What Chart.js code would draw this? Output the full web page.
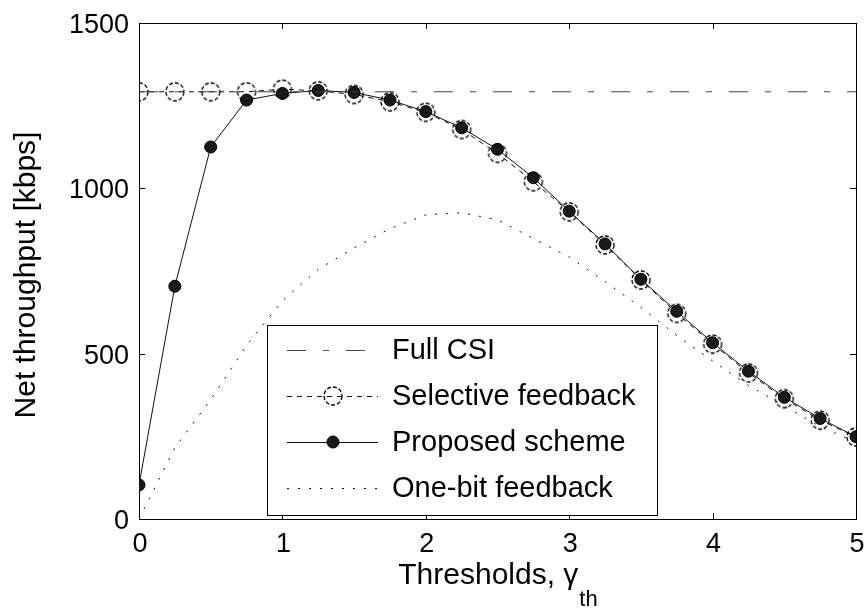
<!DOCTYPE html>
<html>
<head>
<meta charset="utf-8">
<script src="https://cdn.jsdelivr.net/npm/chart.js@4.4.1/dist/chart.umd.min.js"></script>
<style>
  html, body { margin: 0; padding: 0; background: #fff; }
  #wrap { width: 868px; height: 610px; }
</style>
</head>
<body>
<div id="wrap"><canvas id="throughput-chart" width="868" height="610"></canvas></div>
<script>
// thresholds gamma_th and net throughput in kbps
const thresholds = [0, 0.25, 0.5, 0.75, 1, 1.25, 1.5, 1.75, 2, 2.25, 2.5,
                    2.75, 3, 3.25, 3.5, 3.75, 4, 4.25, 4.5, 4.75, 5];
const fullCsi = [1292, 1292, 1292, 1292, 1292, 1292, 1292, 1292, 1292, 1292, 1292,
                 1292, 1292, 1292, 1292, 1292, 1292, 1292, 1292, 1292, 1292];
const selectiveFeedback = [1292, 1292, 1292, 1292, 1300, 1295, 1284, 1262, 1230, 1178, 1106,
                           1020, 929, 829, 723, 622, 529, 442, 364, 299, 248];
const proposedScheme = [103, 704, 1125, 1267, 1287, 1296, 1290, 1267, 1232, 1183, 1118,
                        1032, 931, 832, 725, 628, 533, 447, 368, 304, 249];
const oneBitFeedback = [0, 215, 361, 525, 660, 755, 820, 878, 920, 926, 905,
                        848, 792, 718, 640, 555, 478, 404, 342, 279, 232];

const seriesNames = ['Full CSI', 'Selective feedback', 'Proposed scheme', 'One-bit feedback'];
const xTicks = [0, 1, 2, 3, 4, 5];
const yTicks = [0, 500, 1000, 1500];

const FONT = '"Liberation Sans", Arial, Helvetica, sans-serif';
const INK = '#111';

function points(ys) {
  return thresholds.map((x, i) => ({ x: x, y: ys[i] }));
}

// open dashed circle used as marker for the selective feedback curve
function dashedCircle(r) {
  const c = document.createElement('canvas');
  const s = 2 * r + 4;
  c.width = s; c.height = s;
  const g = c.getContext('2d');
  g.strokeStyle = '#000';
  g.lineWidth = 1.3;
  g.setLineDash([4, 2]);
  g.beginPath();
  g.arc(s / 2, s / 2, r, 0, Math.PI * 2);
  g.stroke();
  return c;
}

// box with inward ticks on all four sides, plus the tick labels
const framePlugin = {
  id: 'frame',
  beforeDatasetsDraw(chart) {
    const { ctx, chartArea: a, scales: { x, y } } = chart;
    const len = 6;
    ctx.save();
    ctx.strokeStyle = '#000';
    ctx.lineWidth = 1;
    ctx.strokeRect(a.left + 0.5, a.top + 0.5, a.right - a.left, a.bottom - a.top);
    ctx.beginPath();
    xTicks.forEach(v => {
      const px = Math.round(x.getPixelForValue(v)) + 0.5;
      ctx.moveTo(px, a.bottom); ctx.lineTo(px, a.bottom - len);
      ctx.moveTo(px, a.top); ctx.lineTo(px, a.top + len);
    });
    yTicks.forEach(v => {
      const py = Math.round(y.getPixelForValue(v)) + 0.5;
      ctx.moveTo(a.left, py); ctx.lineTo(a.left + len, py);
      ctx.moveTo(a.right, py); ctx.lineTo(a.right - len, py);
    });
    ctx.stroke();

    ctx.fillStyle = '#000';
    ctx.font = '27px ' + FONT;
    ctx.textBaseline = 'alphabetic';
    ctx.textAlign = 'center';
    xTicks.forEach(v => ctx.fillText(String(v), x.getPixelForValue(v) + 1, a.bottom + 33));
    ctx.textAlign = 'right';
    yTicks.forEach(v => ctx.fillText(String(v), a.left - 10, y.getPixelForValue(v) + 10));
    ctx.restore();
  }
};

// legend box inside the plot, line sample with marker for each series
const boxLegend = {
  id: 'boxLegend',
  afterDatasetsDraw(chart) {
    const { ctx, chartArea: a } = chart;
    const left = a.left + 128, top = a.top + 302, w = 390, h = 190;
    ctx.save();
    ctx.fillStyle = '#fff';
    ctx.fillRect(left, top, w, h);
    ctx.strokeStyle = '#000';
    ctx.lineWidth = 1;
    ctx.strokeRect(left + 0.5, top + 0.5, w, h);

    chart.data.datasets.forEach((ds, i) => {
      const cy = top + 25 + i * 46;
      ctx.strokeStyle = ds.borderColor;
      ctx.lineWidth = ds.borderWidth;
      ctx.setLineDash(ds.borderDash || []);
      ctx.beginPath();
      ctx.moveTo(left + 20, cy + 0.5);
      ctx.lineTo(left + 111, cy + 0.5);
      ctx.stroke();
      ctx.setLineDash([]);
      if (ds.pointRadius > 0) {
        ctx.fillStyle = ds.pointBackgroundColor;
        ctx.strokeStyle = ds.pointBorderColor;
        ctx.lineWidth = 1;
        Chart.helpers.drawPoint(ctx, {
          pointStyle: ds.pointStyle, radius: ds.pointRadius, rotation: 0, borderWidth: 1
        }, left + 66, cy);
      }
      ctx.fillStyle = '#000';
      ctx.font = '29px ' + FONT;
      ctx.textBaseline = 'middle';
      ctx.fillText(ds.label, left + 125, cy + 1);
    });
    ctx.restore();
  }
};

// axis titles; the x title carries a subscript
const axisTitles = {
  id: 'axisTitles',
  afterDraw(chart) {
    const { ctx, chartArea: a } = chart;
    ctx.save();
    ctx.fillStyle = '#000';

    ctx.translate(27, (a.top + a.bottom) / 2 + 4);
    ctx.rotate(-Math.PI / 2);
    ctx.font = '30px ' + FONT;
    ctx.textAlign = 'center';
    ctx.textBaseline = 'middle';
    ctx.fillText('Net throughput [kbps]', 0, 0);
    ctx.setTransform(1, 0, 0, 1, 0, 0);

    const main = 'Thresholds, \u03b3', sub = 'th';
    ctx.textAlign = 'left';
    ctx.textBaseline = 'alphabetic';
    ctx.font = '30px ' + FONT;
    const wMain = ctx.measureText(main).width;
    ctx.font = '22px ' + FONT;
    const wSub = ctx.measureText(sub).width;
    const start = (a.left + a.right) / 2 - (wMain + wSub) / 2;
    ctx.font = '30px ' + FONT;
    ctx.fillText(main, start, a.bottom + 65);
    ctx.font = '22px ' + FONT;
    ctx.fillText(sub, start + wMain + 1, a.bottom + 87);
    ctx.restore();
  }
};

const ctx = document.getElementById('throughput-chart');
new Chart(ctx, {
  type: 'line',
  data: {
    datasets: [{
      label: seriesNames[0],
      data: points(fullCsi),
      borderColor: '#444',
      borderWidth: 1,
      borderDash: [19, 17, 6, 17],
      pointRadius: 0
    }, {
      label: seriesNames[1],
      data: points(selectiveFeedback),
      borderColor: INK,
      borderWidth: 1,
      borderDash: [5, 5],
      pointStyle: dashedCircle(9),
      pointRadius: 9,
      pointBackgroundColor: 'rgba(0,0,0,0)',
      pointBorderColor: '#000'
    }, {
      label: seriesNames[2],
      data: points(proposedScheme),
      borderColor: INK,
      borderWidth: 1,
      pointStyle: 'circle',
      pointRadius: 6,
      pointBorderWidth: 1,
      pointBackgroundColor: '#1a1a1a',
      pointBorderColor: '#000'
    }, {
      label: seriesNames[3],
      data: points(oneBitFeedback),
      borderColor: INK,
      borderWidth: 1,
      borderDash: [2, 9],
      pointRadius: 0
    }]
  },
  options: {
    responsive: false,
    animation: false,
    layout: { padding: { left: 0, top: 23, right: 12, bottom: 0 } },
    plugins: {
      legend: { display: false },
      tooltip: { enabled: false }
    },
    scales: {
      x: {
        type: 'linear',
        min: 0,
        max: 5,
        grid: { display: false },
        border: { display: false },
        ticks: { display: false },
        afterBuildTicks: s => { s.ticks = xTicks.map(v => ({ value: v })); },
        afterFit: s => { s.height = 91; }
      },
      y: {
        min: 0,
        max: 1500,
        grid: { display: false },
        border: { display: false },
        ticks: { display: false },
        afterBuildTicks: s => { s.ticks = yTicks.map(v => ({ value: v })); },
        afterFit: s => { s.width = 139; }
      }
    }
  },
  plugins: [framePlugin, boxLegend, axisTitles]
});
</script>
</body>
</html>
